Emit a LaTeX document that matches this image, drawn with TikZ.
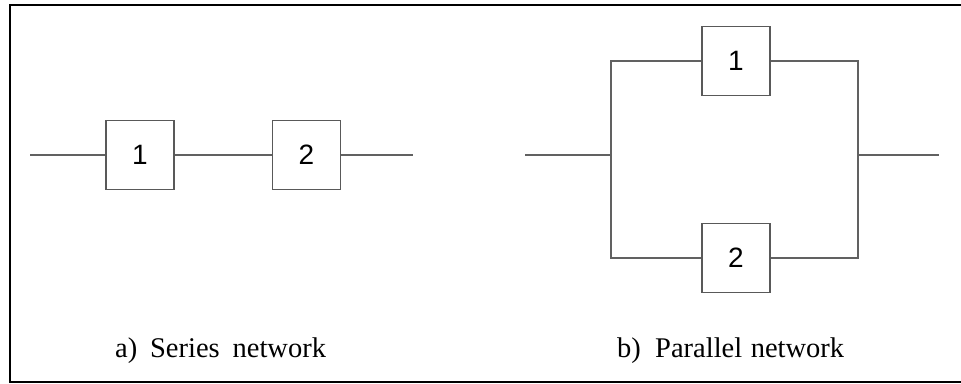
\documentclass[tikz,border=0pt]{standalone}
\usepackage{fontspec}
\setmainfont{Liberation Serif}
\newfontfamily\arialf{Liberation Sans}
\begin{document}
\begin{tikzpicture}[x=1pt,y=-1pt,
  blk/.style={draw=black!65,line width=1.3pt,minimum width=68pt,minimum height=69pt,inner sep=0pt,font=\arialf\fontsize{28}{28}\selectfont},
  wire/.style={draw=black!62,line width=1.4pt},
  captext/.style={anchor=base west,inner sep=0pt,font=\fontsize{28.5}{28.5}\selectfont}]
\useasboundingbox (0,0) rectangle (961,383);
\draw[line width=2.2pt,line cap=rect] (961,5) -- (10,5) -- (10,382) -- (961,382);
% series
\node[blk] (s1) at (140,155) {1};
\node[blk] (s2) at (306.5,155) {2};
\coordinate (sin) at (30,155);
\coordinate (sout) at (413,155);
\draw[wire] (sin) -- (s1.west);
\draw[wire] (s1.east) -- (s2.west);
\draw[wire] (s2.east) -- (sout);
% parallel
\node[blk] (p1) at (736,61) {1};
\node[blk] (p2) at (736,258) {2};
\coordinate (pin) at (525,155);
\coordinate (L) at (611,155);
\coordinate (R) at (858,155);
\coordinate (pout) at (939,155);
\draw[wire] (pin) -- (L);
\draw[wire] (p1.west) -| (L) |- (p2.west);
\draw[wire] (p1.east) -| (R) |- (p2.east);
\draw[wire] (R) -- (pout);
% captions
\node[captext] (ca) at (115,357) {a)\hspace{0.45em}Series\hspace{0.45em}network};
\node[captext] (cb) at (617,357) {b)\hspace{0.5em}Parallel\hspace{0.3em}network};
\end{tikzpicture}
\end{document}
